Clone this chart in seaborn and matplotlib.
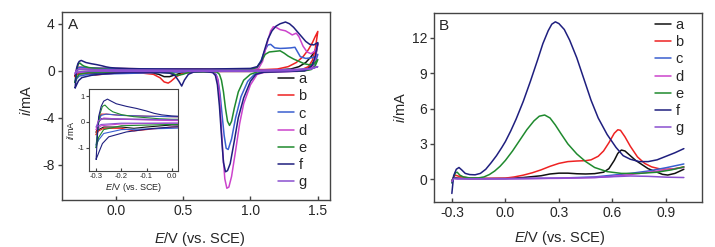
import matplotlib
matplotlib.use("Agg")
import matplotlib.pyplot as plt
import seaborn as sns
import pandas as pd

# curve labels and colours
labels = ['a', 'b', 'c', 'd', 'e', 'f', 'g']
colors = ['#111111', '#ee2222', '#3a5fd0', '#cc44cc', '#1f8a2e', '#1f1f7f', '#8a4fd0']

# panel A: cyclic voltammograms, (E, i)
# forward scan (-0.3 -> 1.5 V) then reverse scan (1.5 -> -0.3 V)
a_fwd = [(-0.30, -0.4), (-0.29, 0.0), (-0.28, 0.12), (-0.2, 0.1), (0.0, 0.08), (0.5, 0.05), (1.0, 0.05),
         (1.2, 0.08), (1.3, 0.15), (1.36, 0.35), (1.41, 0.7), (1.45, 1.2), (1.48, 1.7), (1.50, 2.3)]
a_rev = [(1.48, 1.0), (1.45, 0.4), (1.41, 0.1), (1.35, 0.0), (1.0, -0.05), (0.7, -0.05), (0.5, -0.15),
         (0.44, -0.35), (0.40, -0.5), (0.36, -0.5), (0.32, -0.3), (0.25, -0.15), (0.0, -0.12), (-0.1, -0.2),
         (-0.15, -0.25), (-0.2, -0.2), (-0.27, -0.2), (-0.29, -0.3), (-0.30, -0.4)]

b_fwd = [(-0.30, -0.5), (-0.29, 0.1), (-0.28, 0.3), (-0.26, 0.3), (-0.2, 0.25), (-0.1, 0.22), (0.0, 0.2),
         (0.3, 0.15), (0.6, 0.15), (0.9, 0.12), (1.1, 0.1), (1.2, 0.15), (1.28, 0.35), (1.34, 0.7),
         (1.39, 1.2), (1.43, 1.8), (1.46, 2.4), (1.48, 2.9), (1.50, 3.35)]
b_rev = [(1.48, 1.8), (1.46, 0.9), (1.43, 0.35), (1.38, 0.1), (1.30, 0.0), (1.0, -0.05), (0.8, -0.05),
         (0.6, -0.1), (0.5, -0.2), (0.45, -0.5), (0.41, -0.9), (0.39, -1.05), (0.36, -0.95), (0.33, -0.6),
         (0.28, -0.3), (0.2, -0.2), (0.0, -0.2), (-0.1, -0.3), (-0.15, -0.35), (-0.2, -0.25), (-0.27, -0.25),
         (-0.29, -0.35), (-0.30, -0.5)]

c_fwd = [(-0.30, -0.9), (-0.29, 0.0), (-0.28, 0.25), (-0.26, 0.3), (-0.2, 0.25), (-0.1, 0.22), (0.0, 0.2),
         (0.5, 0.12), (1.0, 0.1), (1.05, 0.3), (1.08, 0.9), (1.11, 1.8), (1.13, 2.2), (1.15, 2.25),
         (1.18, 1.95), (1.22, 1.9), (1.26, 1.92), (1.30, 1.95), (1.33, 2.0), (1.35, 1.6), (1.37, 1.2),
         (1.41, 1.05), (1.45, 1.1), (1.48, 1.2), (1.50, 1.4)]
c_rev = [(1.48, 0.6), (1.45, 0.2), (1.40, 0.0), (1.20, -0.08), (1.08, -0.12), (1.03, -0.3), (0.98, -0.9),
         (0.93, -2.2), (0.89, -4.0), (0.86, -5.8), (0.835, -6.7), (0.82, -6.6), (0.805, -5.5), (0.79, -3.8),
         (0.775, -2.0), (0.76, -0.8), (0.745, -0.3), (0.72, -0.1), (0.5, -0.1), (0.0, -0.25), (-0.2, -0.3),
         (-0.27, -0.45), (-0.29, -0.7), (-0.30, -0.9)]

d_fwd = [(-0.30, -0.3), (-0.29, 0.05), (-0.27, 0.15), (-0.2, 0.1), (0.0, 0.05), (0.5, 0.05), (1.0, 0.08),
         (1.06, 0.2), (1.09, 0.8), (1.12, 2.2), (1.15, 3.4), (1.17, 3.75), (1.19, 3.7), (1.22, 3.5),
         (1.26, 3.4), (1.29, 3.2), (1.31, 3.05), (1.34, 3.2), (1.36, 2.9), (1.39, 2.1), (1.42, 1.6),
         (1.45, 1.45), (1.48, 1.7), (1.50, 2.3)]
d_rev = [(1.48, 1.0), (1.46, 0.3), (1.43, 0.05), (1.35, -0.05), (1.20, -0.1), (1.10, -0.15), (1.05, -0.3),
         (1.0, -1.2), (0.95, -2.8), (0.92, -4.5), (0.89, -6.8), (0.86, -9.0), (0.84, -9.9), (0.825, -10.0),
         (0.81, -9.2), (0.795, -7.0), (0.78, -4.0), (0.77, -2.0), (0.755, -0.6), (0.73, -0.15), (0.6, -0.05),
         (0.3, -0.05), (0.0, -0.05), (-0.2, -0.08), (-0.28, -0.15), (-0.30, -0.3)]

e_fwd = [(-0.30, -1.0), (-0.295, -0.4), (-0.285, 0.3), (-0.275, 0.6), (-0.265, 0.65), (-0.25, 0.5),
         (-0.234, 0.39), (-0.2, 0.28), (-0.15, 0.2), (-0.05, 0.12), (0.0, 0.1), (0.5, 0.08), (1.0, 0.1),
         (1.05, 0.3), (1.08, 0.8), (1.11, 1.4), (1.14, 1.6), (1.18, 1.65), (1.22, 1.7), (1.25, 1.5),
         (1.28, 1.25), (1.32, 1.0), (1.36, 0.8), (1.40, 0.6), (1.44, 0.5), (1.47, 0.6), (1.50, 0.95)]
e_rev = [(1.48, 0.4), (1.45, 0.1), (1.40, 0.0), (1.20, -0.05), (1.05, -0.1), (1.0, -0.3), (0.95, -0.8),
         (0.91, -1.8), (0.88, -3.2), (0.86, -4.3), (0.845, -4.65), (0.83, -4.3), (0.815, -3.2), (0.80, -1.8),
         (0.785, -0.8), (0.77, -0.3), (0.75, -0.1), (0.55, -0.1), (0.5, -0.3), (0.46, -0.4), (0.42, -0.2),
         (0.3, -0.1), (0.0, -0.1), (-0.2, -0.15), (-0.27, -0.3), (-0.29, -0.6), (-0.30, -1.0)]

f_fwd = [(-0.30, -1.45), (-0.295, -0.6), (-0.29, 0.2), (-0.28, 0.6), (-0.27, 0.8), (-0.255, 0.88),
         (-0.24, 0.8), (-0.22, 0.7), (-0.18, 0.6), (-0.14, 0.52), (-0.10, 0.42), (-0.07, 0.33),
         (-0.04, 0.27), (0.0, 0.23), (0.1, 0.18), (0.3, 0.15), (0.7, 0.15), (1.0, 0.2), (1.05, 0.35),
         (1.08, 0.8), (1.10, 1.6), (1.13, 2.7), (1.16, 3.4), (1.19, 3.8), (1.22, 4.0), (1.26, 4.15),
         (1.29, 4.0), (1.32, 3.7), (1.35, 3.3), (1.38, 2.9), (1.41, 2.5), (1.44, 2.25), (1.47, 2.2), (1.50, 2.4)]
f_rev = [(1.48, 1.2), (1.46, 0.5), (1.43, 0.15), (1.40, 0.0), (1.30, -0.05), (1.20, -0.08), (1.10, -0.12),
         (1.04, -0.3), (1.0, -0.9), (0.95, -2.3), (0.91, -4.0), (0.88, -6.0), (0.85, -7.9), (0.83, -8.5),
         (0.815, -8.6), (0.80, -7.8), (0.785, -5.5), (0.77, -3.0), (0.755, -1.2), (0.74, -0.4), (0.72, -0.15),
         (0.65, -0.05), (0.58, -0.1), (0.54, -0.3), (0.51, -0.8), (0.49, -1.3), (0.47, -0.9), (0.44, -0.4),
         (0.40, -0.2), (0.30, -0.12), (0.10, -0.15), (0.0, -0.2), (-0.08, -0.26), (-0.18, -0.39),
         (-0.25, -0.58), (-0.275, -0.84), (-0.29, -1.2), (-0.30, -1.45)]

g_fwd = [(-0.30, -0.2), (-0.29, 0.05), (-0.27, 0.12), (-0.1, 0.1), (0.0, 0.08), (0.5, 0.05), (1.0, 0.05),
         (1.3, 0.1), (1.45, 0.2), (1.50, 0.35)]
g_rev = [(1.45, 0.15), (1.3, 0.0), (1.0, -0.05), (0.5, -0.05), (0.0, -0.05), (-0.2, -0.05), (-0.28, -0.1),
         (-0.30, -0.2)]

cv_curves = [a_fwd + a_rev, b_fwd + b_rev, c_fwd + c_rev, d_fwd + d_rev,
             e_fwd + e_rev, f_fwd + f_rev, g_fwd + g_rev]

# panel B: linear sweeps, (E, i)
a_lsv = [(-0.30, -0.1), (-0.29, 0.15), (-0.27, 0.1), (-0.2, 0.05), (0.0, 0.07), (0.1, 0.15), (0.2, 0.3),
         (0.25, 0.45), (0.3, 0.52), (0.35, 0.52), (0.4, 0.47), (0.45, 0.45), (0.5, 0.48), (0.55, 0.6),
         (0.58, 0.9), (0.61, 1.6), (0.63, 2.2), (0.65, 2.48), (0.67, 2.4), (0.70, 2.0), (0.73, 1.6),
         (0.76, 1.3), (0.80, 0.9), (0.85, 0.6), (0.88, 0.42), (0.91, 0.36), (0.95, 0.5), (1.0, 0.85)]
b_lsv = [(-0.30, -0.2), (-0.29, 0.2), (-0.28, 0.35), (-0.26, 0.25), (-0.2, 0.1), (-0.1, 0.08), (0.0, 0.1),
         (0.05, 0.2), (0.1, 0.35), (0.15, 0.55), (0.2, 0.8), (0.25, 1.1), (0.3, 1.35), (0.35, 1.5),
         (0.40, 1.55), (0.45, 1.58), (0.48, 1.65), (0.52, 1.95), (0.55, 2.4), (0.58, 3.1), (0.61, 3.9),
         (0.63, 4.2), (0.645, 4.15), (0.67, 3.6), (0.70, 2.8), (0.74, 1.9), (0.78, 1.35), (0.82, 1.05),
         (0.86, 0.9), (0.9, 0.85), (0.95, 0.9), (1.0, 1.05)]
c_lsv = [(-0.30, -0.3), (-0.29, 0.1), (-0.27, 0.05), (0.0, 0.05), (0.3, 0.1), (0.5, 0.2), (0.6, 0.35),
         (0.7, 0.5), (0.8, 0.7), (0.9, 0.98), (1.0, 1.3)]
d_lsv = [(-0.30, -0.2), (-0.29, 0.1), (-0.27, 0.05), (0.0, 0.05), (0.3, 0.08), (0.5, 0.15), (0.6, 0.25),
         (0.7, 0.4), (0.8, 0.6), (0.9, 0.8), (1.0, 1.0)]
e_lsv = [(-0.30, -0.3), (-0.29, 0.2), (-0.28, 0.55), (-0.27, 0.6), (-0.255, 0.35), (-0.235, 0.2),
         (-0.2, 0.12), (-0.15, 0.12), (-0.12, 0.2), (-0.09, 0.4), (-0.06, 0.7), (-0.03, 1.1), (0.0, 1.6),
         (0.04, 2.4), (0.08, 3.3), (0.12, 4.2), (0.16, 4.95), (0.19, 5.35), (0.22, 5.45), (0.25, 5.2),
         (0.28, 4.6), (0.31, 3.9), (0.35, 3.0), (0.40, 2.15), (0.45, 1.5), (0.50, 1.0), (0.57, 0.65),
         (0.65, 0.5), (0.75, 0.5), (0.85, 0.6), (0.93, 0.8), (1.0, 1.05)]
f_lsv = [(-0.30, -1.2), (-0.29, 0.3), (-0.275, 0.85), (-0.26, 1.0), (-0.245, 0.8), (-0.225, 0.5),
         (-0.2, 0.4), (-0.17, 0.38), (-0.14, 0.5), (-0.11, 0.85), (-0.08, 1.4), (-0.05, 2.0), (-0.02, 2.7),
         (0.0, 3.2), (0.03, 4.1), (0.06, 5.1), (0.1, 6.6), (0.14, 8.3), (0.18, 10.1), (0.21, 11.5),
         (0.24, 12.6), (0.26, 13.15), (0.28, 13.35), (0.30, 13.2), (0.33, 12.7), (0.36, 11.8), (0.40, 10.3),
         (0.44, 8.5), (0.48, 6.7), (0.52, 5.2), (0.57, 3.8), (0.62, 2.7), (0.66, 2.0), (0.70, 1.7),
         (0.75, 1.5), (0.80, 1.5), (0.85, 1.65), (0.90, 1.95), (0.95, 2.25), (1.0, 2.6)]
g_lsv = [(-0.30, -0.2), (-0.29, 0.05), (-0.27, 0.05), (0.0, 0.05), (0.3, 0.1), (0.5, 0.15), (0.6, 0.22),
         (0.7, 0.28), (0.8, 0.25), (0.9, 0.18), (1.0, 0.15)]

lsv_curves = [a_lsv, b_lsv, c_lsv, d_lsv, e_lsv, f_lsv, g_lsv]

sns.set_theme(style="ticks")
plt.rcParams['font.family'] = ['Liberation Sans', 'DejaVu Sans']
plt.rcParams['mathtext.fontset'] = 'custom'
plt.rcParams['mathtext.rm'] = 'Liberation Sans'
plt.rcParams['mathtext.it'] = 'Liberation Sans:italic'
plt.rcParams['axes.unicode_minus'] = False

xlab = r'$\mathit{E}$/V (vs. SCE)'
ylab = r'$\mathit{i}$/mA'
spine_col = '#444444'


def to_frame(points):
    return pd.DataFrame(points, columns=['E', 'i'])


def style_axes(ax, fs, lw):
    for s in ax.spines.values():
        s.set_color(spine_col)
        s.set_linewidth(lw)
    ax.tick_params(axis='x', direction='in', length=3, width=lw, color=spine_col, labelsize=fs, pad=3)
    ax.tick_params(axis='y', direction='out', length=3, width=lw, color=spine_col, labelsize=fs, pad=2)


fig = plt.figure(figsize=(7.15, 2.47), dpi=100)
axA = fig.add_axes([0.0863, 0.1903, 0.3752, 0.761])
axB = fig.add_axes([0.607, 0.181, 0.3744, 0.765])
axIn = fig.add_axes([0.1249, 0.3089, 0.1245, 0.3296])

# panel A
for lab, col, pts in zip(labels, colors, cv_curves):
    sns.lineplot(data=to_frame(pts), x='E', y='i', sort=False, estimator=None,
                 color=col, lw=1.1, label=lab, ax=axA)
axA.set_xlim(-0.4, 1.59)
axA.set_ylim(-11, 5)
axA.set_xticks([0.0, 0.5, 1.0, 1.5])
axA.set_xticklabels(['0.0', '0.5', '1.0', '1.5'])
axA.set_yticks([4, 0, -4, -8])
axA.set_xlabel(xlab, fontsize=10.5)
axA.set_ylabel(ylab, fontsize=10.5)
axA.xaxis.set_label_coords(0.515, -0.16)
axA.yaxis.set_label_coords(-0.105, 0.53)
style_axes(axA, 10, 1.0)
axA.text(0.022, 0.93, 'A', transform=axA.transAxes, fontsize=11, va='center', ha='left')
axA.legend(loc='upper left', bbox_to_anchor=(0.806, 0.68), frameon=False, fontsize=10.5,
           handlelength=1.1, handletextpad=0.3, labelspacing=0.22, borderpad=0, borderaxespad=0)

# inset of panel A
for lab, col, pts in zip(labels, colors, cv_curves):
    sns.lineplot(data=to_frame(pts), x='E', y='i', sort=False, estimator=None,
                 color=col, lw=0.8, legend=False, ax=axIn)
axIn.set_facecolor('white')
axIn.set_xlim(-0.327, 0.026)
axIn.set_ylim(-1.89, 1.26)
axIn.set_xticks([-0.3, -0.2, -0.1, 0.0])
axIn.set_xticklabels(['-0.3', '-0.2', '-0.1', '0.0'])
axIn.set_yticks([-1, 0, 1])
axIn.set_xlabel(xlab, fontsize=6.5, labelpad=1)
axIn.set_ylabel(ylab, fontsize=6.5, labelpad=1)
style_axes(axIn, 5.5, 0.8)
axIn.tick_params(length=2, pad=1.5)

# panel B
for lab, col, pts in zip(labels, colors, lsv_curves):
    sns.lineplot(data=to_frame(pts), x='E', y='i', sort=False, estimator=None,
                 color=col, lw=1.1, label=lab, ax=axB)
axB.set_xlim(-0.40, 1.10)
axB.set_ylim(-1.95, 14.07)
axB.set_xticks([-0.3, 0.0, 0.3, 0.6, 0.9])
axB.set_xticklabels(['-0.3', '0.0', '0.3', '0.6', '0.9'])
axB.set_yticks([0, 3, 6, 9, 12])
axB.set_xlabel(xlab, fontsize=10.5)
axB.set_ylabel(ylab, fontsize=10.5)
axB.xaxis.set_label_coords(0.47, -0.14)
axB.yaxis.set_label_coords(-0.097, 0.5)
style_axes(axB, 10, 1.0)
axB.text(0.018, 0.935, 'B', transform=axB.transAxes, fontsize=11, va='center', ha='left')
axB.legend(loc='upper left', bbox_to_anchor=(0.826, 0.975), frameon=False, fontsize=10.5,
           handlelength=1.1, handletextpad=0.3, labelspacing=0.22, borderpad=0, borderaxespad=0)

fig.savefig('out.png', dpi=100)
